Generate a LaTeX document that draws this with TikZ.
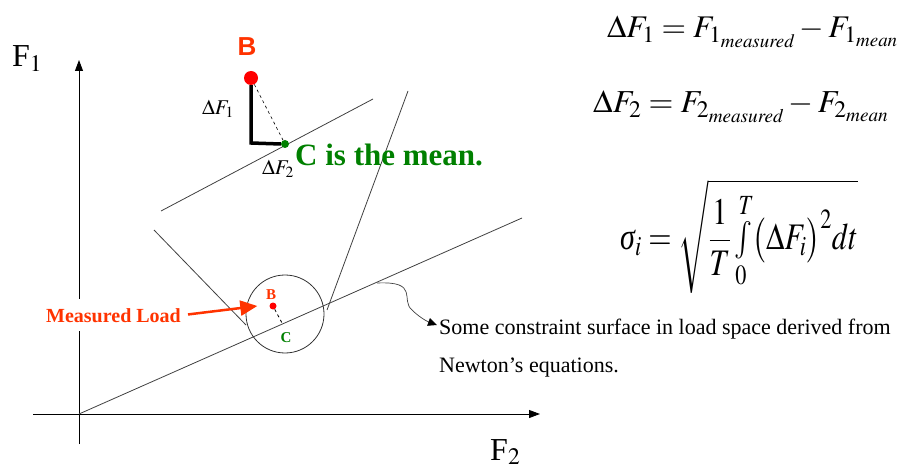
\documentclass[tikz,border=0pt]{standalone}
\usepackage{mathptmx}
\usepackage{graphicx}
\usepackage[no-math]{fontspec}
\setmainfont{Liberation Serif}
\newfontfamily\arialfont{Liberation Sans}
\usetikzlibrary{arrows.meta,positioning,shapes}
\definecolor{loadred}{RGB}{255,51,0}
\definecolor{dotred}{RGB}{255,0,0}
\definecolor{meangreen}{RGB}{0,128,0}
\newcommand{\fsz}[1]{\fontsize{#1}{#1}\selectfont}

\begin{document}
\begin{tikzpicture}[x=1pt, y=-1pt,
    axis/.style={line width=0.9pt, -{Triangle[length=11pt,width=8pt]}},
    surface/.style={line width=0.8pt, black!75},
    dot/.style={circle, fill, inner sep=0pt},
    lbl/.style={inner sep=0pt}]
    \useasboundingbox (0,0) rectangle (907,470);

    % 軸
    \coordinate (O) at (79,414);
    \coordinate (ytop) at (79,60);
    \coordinate (ybot) at (79,444);
    \coordinate (xleft) at (33,414);
    \coordinate (xright) at (540,414);
    \draw[axis] (ybot) -- (ytop);
    \draw[axis] (xleft) -- (xright);
    \node[lbl, font=\fsz{32}, anchor=base west] (f1) at (12,67) {F$_1$};
    \node[lbl, font=\fsz{32}, anchor=base west] (f2) at (490,460) {F$_2$};

    % 拘束面
    \coordinate (send) at (522,218);
    \draw[surface] (O) -- (send);

    % 拡大窓
    \node[circle, draw, black!80, line width=0.8pt, minimum size=78pt, inner sep=0pt] (zoom) at (285,314) {};
    \coordinate (zl1) at (154,230);
    \coordinate (zl2) at (246,325);
    \coordinate (zr1) at (408,91);
    \coordinate (zr2) at (327,310);
    \draw[surface] (zl1) -- (zl2);
    \draw[surface] (zr1) -- (zr2);

    % 拡大図
    \coordinate (m1) at (161,211);
    \coordinate (m2) at (373,99);
    \draw[surface] (m1) -- (m2);
    \node[dot, fill=dotred, minimum size=14pt] (Bbig) at (251,78) {};
    \node[dot, fill=meangreen, minimum size=8pt] (Cbig) at (285,144) {};
    \coordinate (corner) at (251,143);
    \draw[dashed, line width=0.6pt] (Bbig) -- (Cbig);
    \draw[line width=3.5pt] (Bbig.south) -- (corner) -- (Cbig.west);
    \node[lbl, font=\arialfont\bfseries\fsz{26}, text=loadred] (blbl) at (247,47) {B};
    \node[lbl, font=\fsz{21}] (df1) at (218,109) {$\Delta F_1$};
    \node[lbl, font=\fsz{21}] (df2) at (278,169) {$\Delta F_2$};
    \node[lbl, font=\bfseries\fsz{31}, text=meangreen, anchor=base west] (cmean) at (295,166) {C is the mean.};

    % 円内の点
    \node[dot, fill=dotred, minimum size=7pt] (Bsm) at (273,306) {};
    \coordinate (Csm) at (282,323);
    \draw[dashed, line width=0.8pt] (Bsm) -- (Csm);
    \node[lbl, font=\bfseries\fsz{15}, text=loadred] (bsml) at (271,295) {B};
    \node[lbl, font=\bfseries\fsz{15}, text=meangreen] (csml) at (286,338) {C};

    % 測定荷重
    \node[font=\bfseries\fsz{20}, text=loadred, fill=white, inner xsep=1pt, inner ysep=9pt, anchor=base west] (meas) at (45,322) {Measured Load};
    \draw[loadred, line width=2.5pt, shorten <=6pt, -{Triangle[length=17pt,width=15pt]}] (meas.east) -- ([xshift=-12pt]Bsm.west);

    % 説明
    \node[lbl, font=\fontsize{22}{38}\selectfont, align=left, anchor=north west] (note) at (439,319) {Some constraint surface in load space derived from\\Newton’s equations.};
    \coordinate (wig) at (377,283);
    \coordinate (notetip) at (437,325);
    \draw[line width=0.7pt, black!75, -{Triangle[length=9pt,width=8pt,black]}] (wig) .. controls (420,281) and (400,300) .. (412,310) .. controls (418,316) and (426,321) .. (notetip);

    % 式
    \node[lbl, font=\fsz{31.5}, anchor=base west] (eq1) at (607,38) {$\Delta F_1 = F_{1_{\mathit{measured}}} - F_{1_{\mathit{mean}}}$};
    \node[lbl, font=\fsz{32}, anchor=base west] (eq2) at (593,113) {$\Delta F_2 = F_{2_{\mathit{measured}}} - F_{2_{\mathit{mean}}}$};
    \node[lbl, font=\fsz{30}, anchor=base west] (eq3) at (620,250) {\scalebox{1}[1.25]{$\displaystyle\mbox{\itshape σ}_i = \sqrt{\frac{1}{T}\,{\textstyle\int\limits_0^T} \bigl(\Delta F_i\bigr)^2 dt}$}};
\end{tikzpicture}
\end{document}
